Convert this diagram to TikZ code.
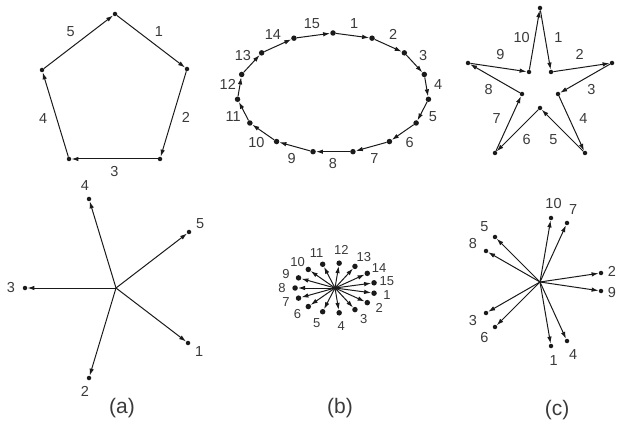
\documentclass[tikz,border=0pt]{standalone}
\usepackage{fontspec}
\setmainfont{Liberation Sans}
\usetikzlibrary{positioning, arrows.meta, calc}
\definecolor{figink}{HTML}{1A1A1A}
\definecolor{figtext}{HTML}{3A3A3A}
\tikzset{
  tipdot/.style={circle, fill=figink, inner sep=0pt, minimum size=4.5pt},
  bigdot/.style={tipdot, minimum size=5.5pt},
  vec/.style={-{Latex[length=7pt,width=4.5pt]}, color=figink, line width=1pt},
  num/.style={color=figtext, font=\fontsize{14.5}{15}\selectfont, inner sep=0pt},
  smallnum/.style={num, font=\fontsize{13}{14}\selectfont},
  figcap/.style={color=figtext, font=\fontsize{21}{23}\selectfont, inner sep=0pt}
}

\begin{document}
\begin{tikzpicture}[x=1pt, y=-1pt]
    \useasboundingbox (0,0) rectangle (618,430);
    % (a) pentagon
    \node[tipdot] (pa0) at (115,14) {};
    \node[tipdot] (pa1) at (187,69) {};
    \node[tipdot] (pa2) at (160,159) {};
    \node[tipdot] (pa3) at (69,159) {};
    \node[tipdot] (pa4) at (42,70) {};
    \foreach \i/\k/\n in {0/1/1, 1/2/2, 2/3/3, 3/4/4, 4/0/5} {
      \draw[vec] (pa\i) -- (pa\k);
      \node[num] (la\n) at ($(pa\i)!.5!(pa\k)!13pt!90:(pa\k)$) {\n};
    }
    % (b) ellipse
    \foreach \k in {0,...,14}
      \node[bigdot] (pb\k) at ({333+96*cos(90-24*\k)}, {93-60*sin(90-24*\k)}) {};
    \foreach \i/\k/\n in {0/1/1, 1/2/2, 2/3/3, 3/4/4, 4/5/5, 5/6/6, 6/7/7, 7/8/8,
                         8/9/9, 9/10/10, 10/11/11, 11/12/12, 12/13/13, 13/14/14, 14/0/15} {
      \draw[vec] (pb\i) -- (pb\k);
      \node[num] (lb\n) at ($(pb\i)!.5!(pb\k)!12pt!90:(pb\k)$) {\n};
    }
    % (c) star
    \node[tipdot] (pc0) at (540,8) {};
    \node[tipdot] (pc1) at (551,72) {};
    \node[tipdot] (pc2) at (612,63) {};
    \node[tipdot] (pc3) at (558,94) {};
    \node[tipdot] (pc4) at (585,153) {};
    \node[tipdot] (pc5) at (540,108) {};
    \node[tipdot] (pc6) at (495,153) {};
    \node[tipdot] (pc7) at (522,94) {};
    \node[tipdot] (pc8) at (468,63) {};
    \node[tipdot] (pc9) at (529,72) {};
    \foreach \i/\k/\n in {0/1/1, 1/2/2, 2/3/3, 3/4/4, 4/5/5, 5/6/6, 6/7/7, 7/8/8, 8/9/9, 9/0/10} {
      \draw[vec] (pc\i) -- (pc\k);
      \node[num] (lc\n) at ($(pc\i)!.5!(pc\k)!13pt!90:(pc\k)$) {\n};
    }

    % edge vectors from one origin
    \coordinate (ca) at (116,288);
    \coordinate (cb) at (335,288);
    \coordinate (cc) at (540,282);
    \foreach \i/\k/\n in {0/1/1, 1/2/2, 2/3/3, 3/4/4, 4/0/5} {
      \node[tipdot] (qa\n) at ($(ca)+(pa\k)-(pa\i)$) {};
      \draw[vec] (ca) -- (qa\n);
      \node[num] (lqa\n) at ($(qa\n)!-14pt!(ca)$) {\n};
    }
    \foreach \i/\k/\n in {0/1/1, 1/2/2, 2/3/3, 3/4/4, 4/5/5, 5/6/6, 6/7/7, 7/8/8,
                         8/9/9, 9/10/10, 10/11/11, 11/12/12, 12/13/13, 13/14/14, 14/0/15} {
      \node[bigdot] (qb\n) at ($(cb)+(pb\k)-(pb\i)$) {};
      \draw[vec] (cb) -- (qb\n);
      \node[smallnum] (lqb\n) at ($(qb\n)!-13pt!(cb)$) {\n};
    }
    \foreach \i/\k/\n/\d in {0/1/1/15, 1/2/2/11, 2/3/3/15, 3/4/4/15, 4/5/5/15,
                            5/6/6/15, 6/7/7/15, 7/8/8/15, 8/9/9/11, 9/0/10/15} {
      \node[tipdot] (qc\n) at ($(cc)+(pc\k)-(pc\i)$) {};
      \draw[vec] (cc) -- (qc\n);
      \node[num] (lqc\n) at ($(qc\n)!-\d pt!(cc)$) {\n};
    }

    % captions
    \node[figcap] (capa) at (122,408) {(a)};
    \node[figcap] (capb) at (340,408) {(b)};
    \node[figcap] (capc) at (557,410) {(c)};
\end{tikzpicture}
\end{document}
